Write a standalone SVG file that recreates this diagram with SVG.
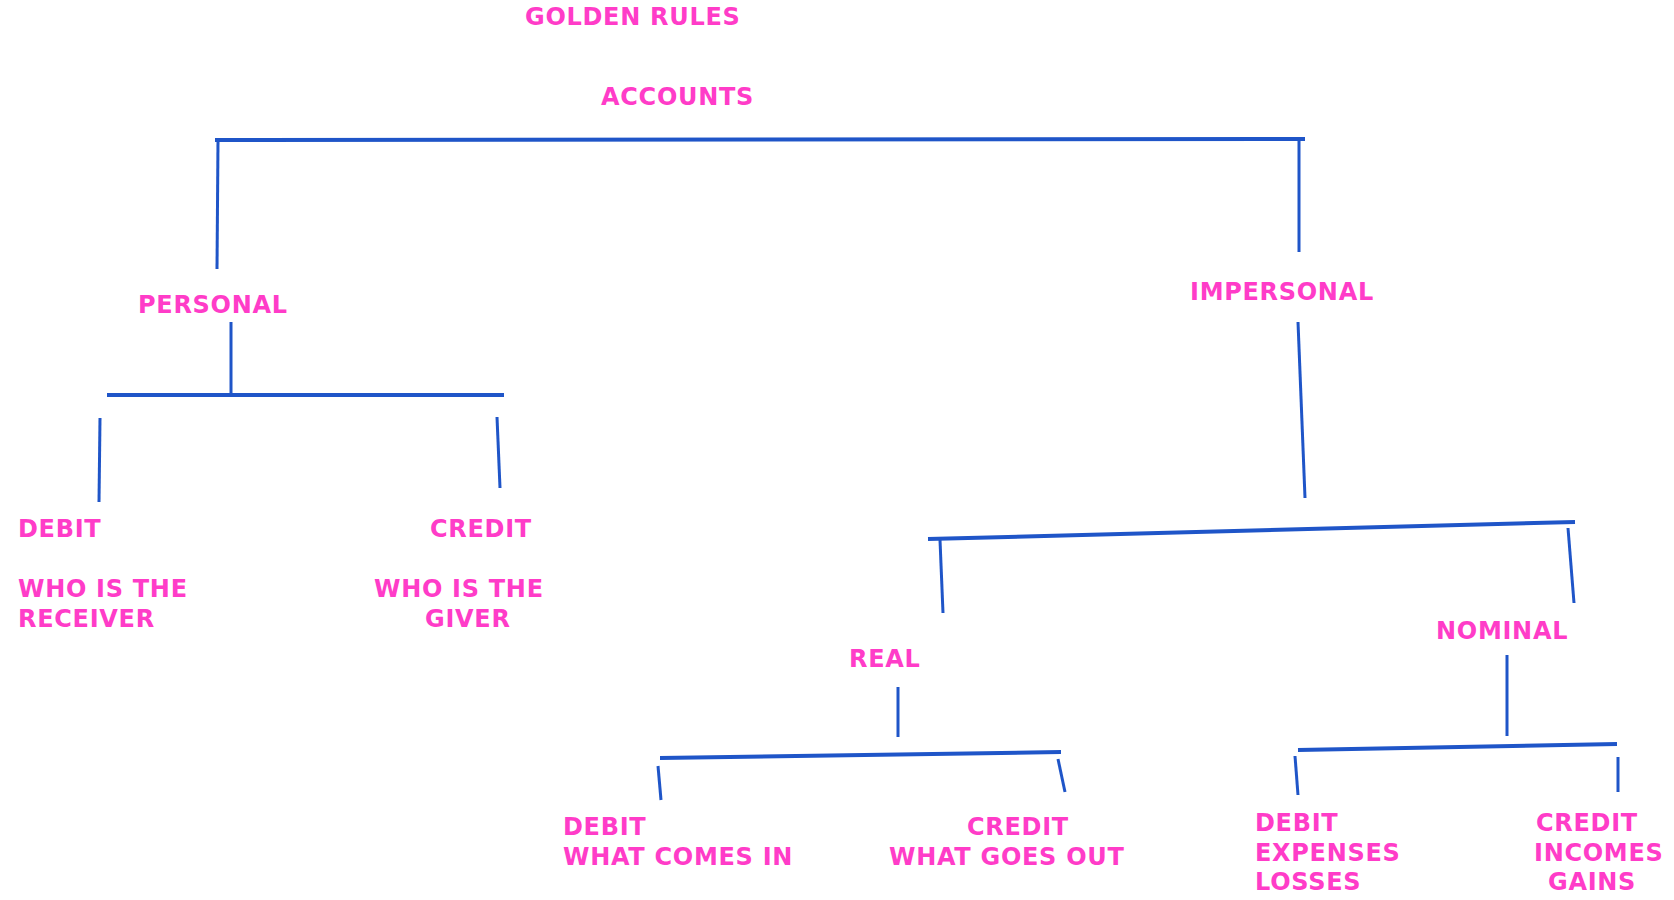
<svg xmlns="http://www.w3.org/2000/svg" width="1674" height="900" viewBox="0 0 1674 900">
<style>
text{font-family:"DejaVu Sans",Verdana,sans-serif;font-weight:bold;font-size:24px;letter-spacing:0.7px;fill:#ff3cc8}
.h{stroke:#1f55c8;stroke-width:4;fill:none}
.v{stroke:#1f55c8;stroke-width:3;fill:none}
</style>
<rect width="1674" height="900" fill="#ffffff"/>
<g id="title"><text x="525" y="25">GOLDEN RULES</text></g>
<g id="accounts"><text x="601" y="105">ACCOUNTS</text></g>
<g id="personal"><text x="138" y="313">PERSONAL</text></g>
<g id="impersonal"><text x="1190" y="300">IMPERSONAL</text></g>
<g id="personal-debit"><text x="18" y="537">DEBIT</text><text x="18" y="597">WHO IS THE</text><text x="18" y="627">RECEIVER</text></g>
<g id="personal-credit"><text x="430" y="537">CREDIT</text><text x="374" y="597">WHO IS THE</text><text x="425" y="627">GIVER</text></g>
<g id="real"><text x="849" y="667">REAL</text></g>
<g id="nominal"><text x="1436" y="639">NOMINAL</text></g>
<g id="real-debit"><text x="563" y="835">DEBIT</text><text x="563" y="865">WHAT COMES IN</text></g>
<g id="real-credit"><text x="967" y="835">CREDIT</text><text x="889" y="865">WHAT GOES OUT</text></g>
<g id="nominal-debit"><text x="1255" y="831">DEBIT</text><text x="1255" y="861">EXPENSES</text><text x="1255" y="890">LOSSES</text></g>
<g id="nominal-credit"><text x="1536" y="831">CREDIT</text><text x="1534" y="861">INCOMES</text><text x="1548" y="890">GAINS</text></g>
<g id="connectors">
<line class="h" x1="215" y1="140" x2="1305" y2="139"/>
<line class="v" x1="218" y1="141" x2="217" y2="269"/>
<line class="v" x1="1299" y1="141" x2="1299" y2="252"/>
<line class="v" x1="231" y1="322" x2="231" y2="395"/>
<line class="h" x1="107" y1="395" x2="504" y2="395"/>
<line class="v" x1="100" y1="418" x2="99" y2="502"/>
<line class="v" x1="497" y1="417" x2="500" y2="488"/>
<line class="v" x1="1298" y1="322" x2="1305" y2="498"/>
<line class="h" x1="928" y1="539" x2="1575" y2="522"/>
<line class="v" x1="940" y1="540" x2="943" y2="613"/>
<line class="v" x1="1568" y1="528" x2="1574" y2="603"/>
<line class="v" x1="898" y1="687" x2="898" y2="737"/>
<line class="h" x1="660" y1="758" x2="1061" y2="752"/>
<line class="v" x1="658" y1="766" x2="661" y2="800"/>
<line class="v" x1="1058" y1="759" x2="1065" y2="792"/>
<line class="v" x1="1507" y1="655" x2="1507" y2="736"/>
<line class="h" x1="1298" y1="750" x2="1617" y2="744"/>
<line class="v" x1="1295" y1="756" x2="1298" y2="795"/>
<line class="v" x1="1618" y1="757" x2="1618" y2="792"/>
</g>
</svg>
